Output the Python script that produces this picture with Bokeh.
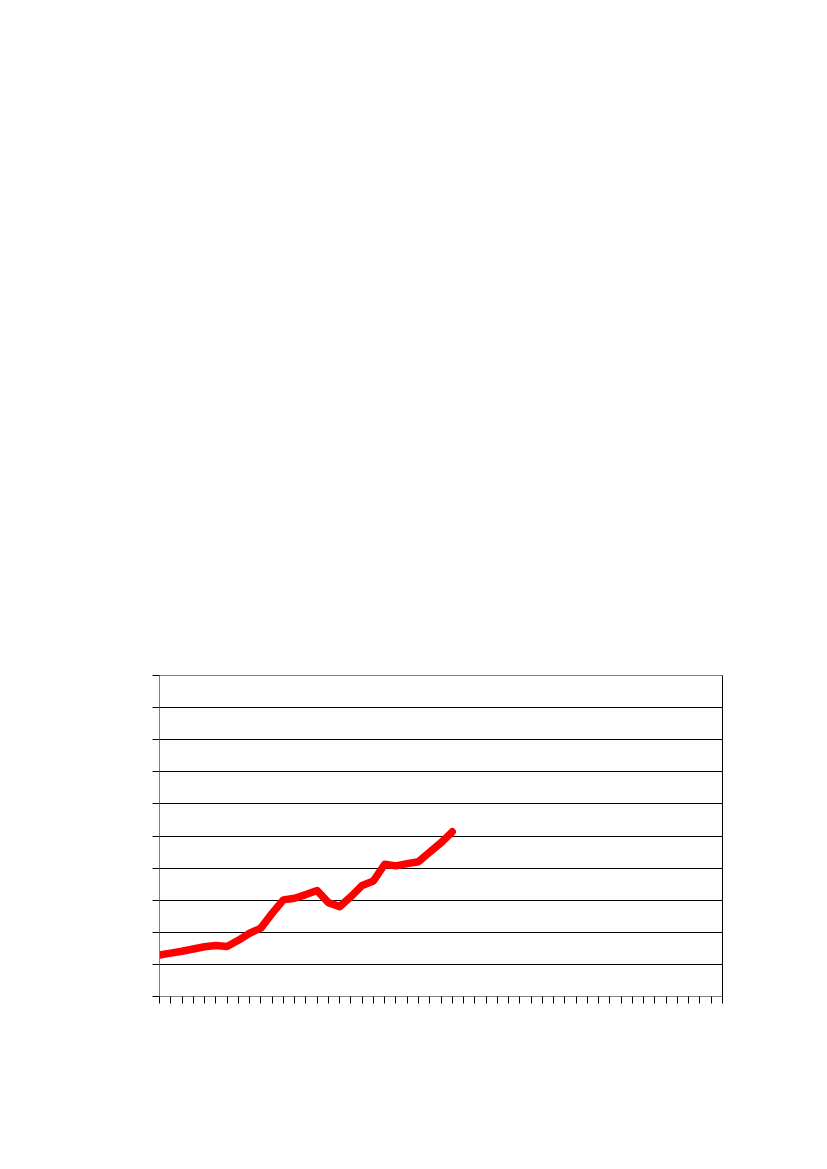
from bokeh.plotting import figure
from bokeh.models import FixedTicker, LinearAxis, CustomJSTickFormatter, Range1d
from bokeh.embed import file_html
from bokeh.resources import INLINE

# Data (y-scale arbitrary 0-100, no labels shown)
x_index = list(range(27))
values = [12.9, 13.5, 14.1, 14.8, 15.5, 15.9, 15.6, 17.5, 19.7, 21.3,
          25.9, 30.1, 30.6, 31.75, 33.0, 29.25, 28.0, 31.1, 34.6, 36.0,
          41.2, 40.7, 41.4, 42.0, 45.0, 47.9, 51.3]
n_categories = 51
y_ticks = [0, 10, 20, 30, 40, 50, 60, 70, 80, 90, 100]
grid_ticks = [10, 20, 30, 40, 50, 60, 70, 80, 90]

p = figure(frame_width=563, frame_height=321,
           x_range=Range1d(0, n_categories - 1), y_range=Range1d(0, 100),
           output_backend="svg", toolbar_location=None,
           min_border_left=159, min_border_top=675,
           min_border_right=80, min_border_bottom=100,
           background_fill_color="white", border_fill_color="white")

p.outline_line_color = "#808080"
p.outline_line_width = 1

empty = CustomJSTickFormatter(code="return ''")

p.xaxis.ticker = FixedTicker(ticks=list(range(n_categories)))
p.xaxis.formatter = empty
p.xaxis.axis_line_color = "#808080"
p.xaxis.major_tick_line_color = "black"
p.xaxis.major_tick_in = 0
p.xaxis.major_tick_out = 7
p.xaxis.minor_tick_line_color = None

p.yaxis.ticker = FixedTicker(ticks=y_ticks)
p.yaxis.formatter = empty
p.yaxis.axis_line_color = "#808080"
p.yaxis.major_tick_line_color = "black"
p.yaxis.major_tick_in = 0
p.yaxis.major_tick_out = 7
p.yaxis.minor_tick_line_color = None

right = LinearAxis(ticker=FixedTicker(ticks=[]), formatter=empty,
                   axis_line_color="black", major_tick_line_color=None,
                   minor_tick_line_color=None)
p.add_layout(right, "right")

p.xgrid.visible = False
p.ygrid.ticker = FixedTicker(ticks=grid_ticks)
p.ygrid.grid_line_color = "black"
p.ygrid.grid_line_width = 1

p.line(x_index, values, line_color="#FF0000", line_width=7.5,
       line_cap="round", line_join="round")

open("out.html", "w").write(file_html(p, INLINE))
